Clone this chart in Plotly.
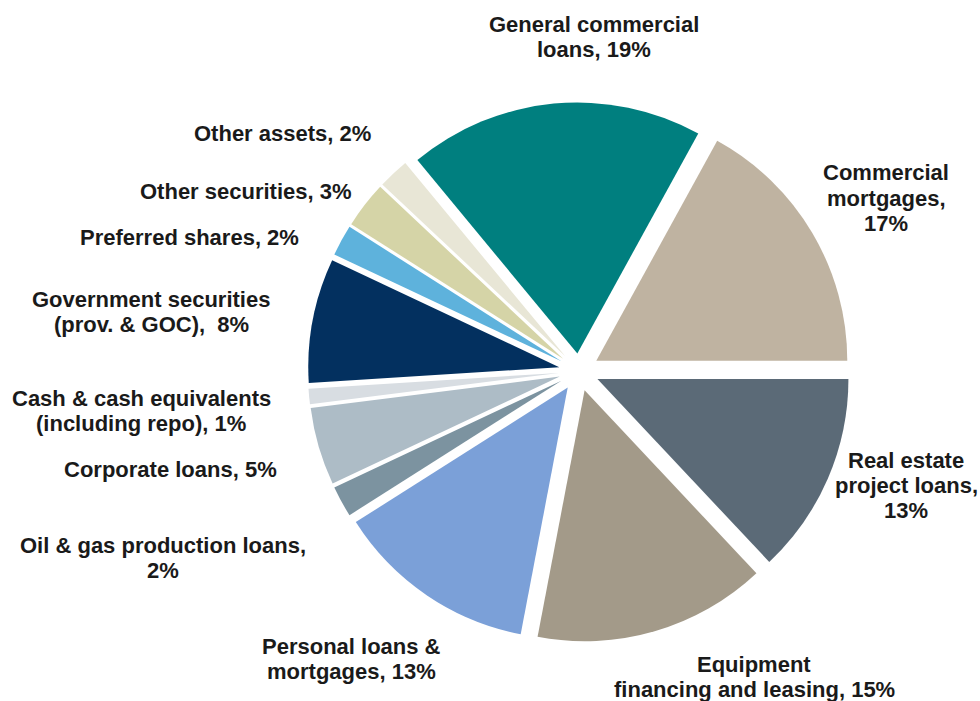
import plotly.graph_objects as go

# ---- data ----
categories = [
    "General commercial loans",
    "Commercial mortgages",
    "Real estate project loans",
    "Equipment financing and leasing",
    "Personal loans & mortgages",
    "Oil & gas production loans",
    "Corporate loans",
    "Cash & cash equivalents (including repo)",
    "Government securities (prov. & GOC)",
    "Preferred shares",
    "Other securities",
    "Other assets",
]
shares = [19, 17, 13, 15, 13, 2, 5, 1, 8, 2, 3, 2]
label_texts = [
    "General commercial<br>loans, 19%",
    "Commercial<br>mortgages,<br>17%",
    "Real estate<br>project loans,<br>13%",
    "Equipment<br>financing and leasing, 15%",
    "Personal loans &<br>mortgages, 13%",
    "Oil & gas production loans,<br>2%",
    "Corporate loans, 5%",
    "Cash & cash equivalents<br>(including repo), 1%",
    "Government securities<br>(prov. & GOC),  8%",
    "Preferred shares, 2%",
    "Other securities, 3%",
    "Other assets, 2%",
]

# ---- styles / layout ----
colors = ["#007F7F", "#BFB3A1", "#5B6A77", "#A39A89", "#7BA0D8", "#7C93A0",
          "#ADBCC6", "#D8DDE2", "#03305F", "#5EB2DC", "#D5D4A7", "#E8E6D6"]
pulls = [0.07, 0.08, 0.08, 0.08, 0.08, 0.08, 0.08, 0.08, 0.08, 0.08, 0.08, 0.08]
W, H = 980, 701
cx, cy, r = 579, 371, 251
half = r * (1 + max(pulls))
# label block centres in screen pixels (x, y)
label_pos = [(594, 37), (886, 198), (906, 485), (754, 677), (351, 659),
             (163, 558), (170, 469), (141, 411), (151, 312), (189, 237),
             (246, 192), (282, 133)]
LINE_GAP = 25
FONT = dict(family="Liberation Sans, Arial, sans-serif", size=22,
            color="#1a1a1a", weight="bold")

fig = go.Figure(go.Pie(
    labels=categories,
    values=shares,
    sort=False,
    direction="clockwise",
    rotation=-39.6,
    pull=pulls,
    marker=dict(colors=colors, line=dict(width=0)),
    textinfo="none",
    hoverinfo="label+percent",
    showlegend=False,
    domain=dict(x=[(cx - half) / W, (cx + half) / W],
                y=[1 - (cy + half) / H, 1 - (cy - half) / H]),
))

for txt, (px, py) in zip(label_texts, label_pos):
    lines = txt.split("<br>")
    n = len(lines)
    for i, line in enumerate(lines):
        ly = py + (i - (n - 1) / 2) * LINE_GAP
        fig.add_annotation(
            text=line, x=px / W, y=1 - ly / H,
            xref="paper", yref="paper",
            xanchor="center", yanchor="middle", align="center",
            showarrow=False, font=FONT,
        )

fig.update_layout(
    width=W, height=H,
    margin=dict(l=0, r=0, t=0, b=0),
    paper_bgcolor="white",
    plot_bgcolor="white",
)

fig.write_html(
    "out.html",
    config={"displayModeBar": False},
    post_script="document.body.style.margin='0';document.body.style.overflow='hidden';",
)
